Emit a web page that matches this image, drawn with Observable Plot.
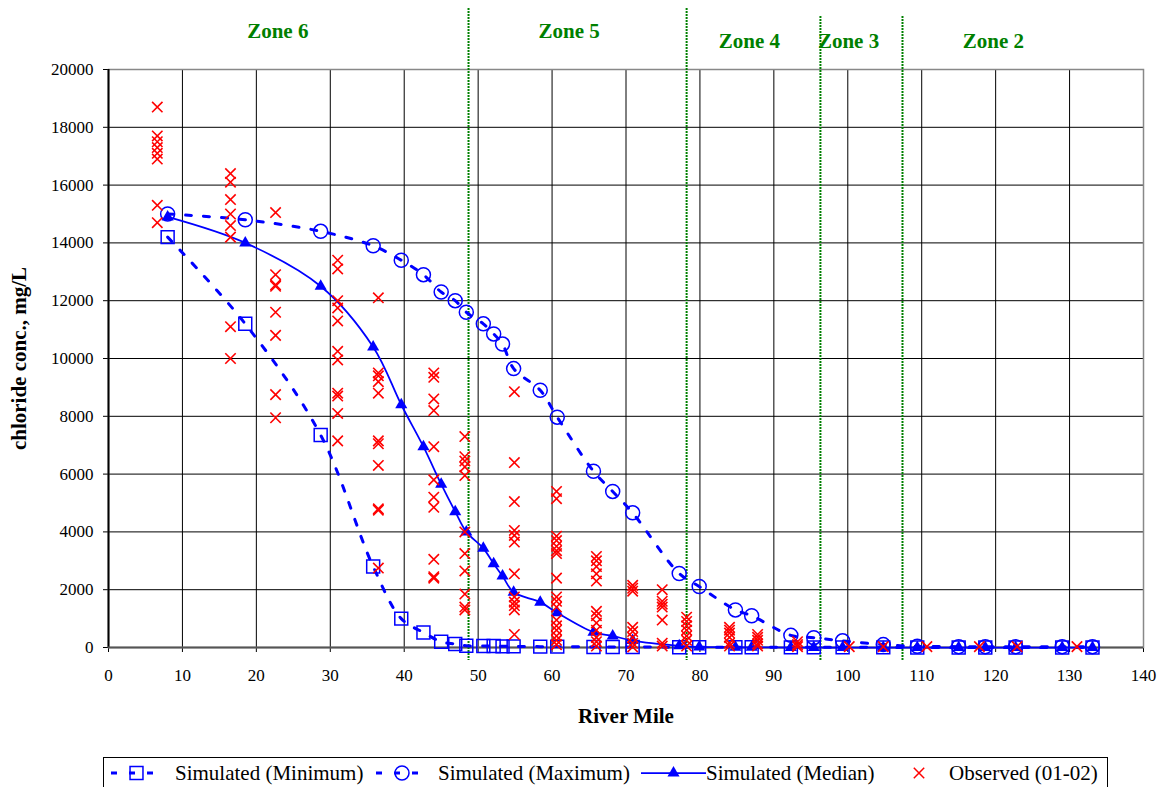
<!DOCTYPE html>
<html><head><meta charset="utf-8">
<script src="https://cdn.jsdelivr.net/npm/d3@7"></script>
<script src="https://cdn.jsdelivr.net/npm/@observablehq/plot@0.6"></script>
<style>
body{margin:0;background:#fff;font-family:"Liberation Serif","Times New Roman",serif;}
#wrap{position:relative;width:1165px;height:787px;overflow:hidden;background:#fff}
#legend{position:absolute;left:103px;top:757px;width:1005px;height:40px;border:1px solid #000;box-sizing:border-box;background:#fff}
.sample{position:absolute;top:4px}
.ltext{position:absolute;top:3px;font-size:21px;line-height:24px;white-space:nowrap;color:#000}
</style></head><body>
<div id="wrap"><div id="chart"></div><div id="legend"></div></div>
<script>
// ---- data ----
const seriesNames = ["Simulated (Minimum)", "Simulated (Maximum)", "Simulated (Median)", "Observed (01-02)"];
const simMile = [8.0, 18.5, 28.7, 35.8, 39.6, 42.6, 45.0, 46.9, 48.4, 50.7, 52.1, 53.3, 54.8, 58.4, 60.7, 65.6, 68.2, 70.9, 77.2, 79.9, 84.8, 87.0, 92.3, 95.4, 99.3, 104.8, 109.4, 115.0, 118.6, 122.7, 129.0, 133.1];
const simMin = [14200, 11200, 7350, 2800, 1000, 520, 200, 120, 60, 50, 50, 40, 40, 30, 30, 20, 20, 20, 10, 10, 10, 10, 5, 5, 5, 5, 0, 0, 0, 0, 0, 0];
const simMax = [15000, 14800, 14400, 13900, 13400, 12900, 12300, 12000, 11600, 11200, 10850, 10500, 9650, 8900, 7970, 6100, 5400, 4660, 2560, 2110, 1300, 1100, 420, 340, 230, 100, 40, 30, 30, 30, 30, 30];
const simMed = [14900, 14000, 12500, 10400, 8400, 6950, 5650, 4700, 4000, 3430, 2900, 2470, 1910, 1570, 1200, 530, 400, 240, 60, 20, 10, 5, 0, 0, 0, 0, 0, 0, 0, 0, 0, 0];
const obsMile = [6.6, 16.5, 22.6, 31.0, 36.5, 44.0, 48.2, 54.9, 60.6, 66.0, 70.9, 74.9, 78.2, 84.0, 87.8, 93.2, 100.2, 104.8, 110.7, 117.8, 122.9, 131.0];
const obsConc = [
  [18700, 17700, 17500, 17300, 17100, 16900, 15300, 14700],
  [16400, 16100, 15500, 15000, 14600, 14200, 11100, 10000],
  [15050, 12900, 12550, 12500, 11600, 10800, 8750, 7950],
  [13400, 13100, 12000, 11750, 11300, 10250, 9950, 8800, 8700, 8100, 7150],
  [12100, 9500, 9400, 9200, 8800, 7150, 7050, 6300, 4800, 4750, 2750],
  [9500, 9350, 8600, 8200, 6950, 5800, 5200, 4850, 3050, 2450, 2400],
  [7300, 6600, 6450, 6250, 5950, 4000, 3250, 2650, 1850, 1400, 1300],
  [8850, 6400, 5050, 4050, 3880, 3650, 2550, 1750, 1570, 1450, 1300, 450],
  [5400, 5150, 3850, 3700, 3500, 3350, 3250, 2400, 1750, 1600, 1400, 950, 750, 600, 400, 250, 100],
  [3150, 3000, 2800, 2550, 2300, 1250, 1100, 850, 600, 350, 200, 50],
  [2150, 2050, 1950, 700, 550, 350, 150, 20],
  [2000, 1600, 1500, 1400, 950, 150, 50],
  [1050, 900, 750, 600, 400, 250, 50],
  [700, 600, 500, 350, 150, 50],
  [450, 350, 250, 130, 50],
  [200, 100, 30],
  [30], [30], [30], [30], [30], [30]
];
const zoneBounds = [48.7, 78.2, 96.3, 107.4];
const zoneNames = ["Zone 6", "Zone 5", "Zone 4", "Zone 3", "Zone 2"];
const zoneLabelMile = [22.9, 62.3, 86.7, 100.1, 119.7];
const xTicks = d3.range(0, 141, 10);
const yTicks = d3.range(0, 20001, 2000);

// ---- build ----
const blue = "#0000ff", red = "#ff0000", green = "#008000";
const mk = (ys) => simMile.map((m, i) => ({mile: m, v: ys[i]}));
const minData = mk(simMin), maxData = mk(simMax), medData = mk(simMed);
const obsData = obsMile.flatMap((m, i) => obsConc[i].map(v => ({mile: m, v})));

const dashArr = "6,12";
const dash = {stroke: blue, strokeWidth: 3, strokeDasharray: dashArr, curve: "catmull-rom"};
const lbl = {fontWeight: "bold", fontSize: 21, lineAnchor: "middle", textAnchor: "middle"};
const chart = Plot.plot({
  width: 1165, height: 745,
  marginLeft: 108, marginRight: 22, marginTop: 69, marginBottom: 98,
  style: {fontFamily: "Liberation Serif, Times New Roman, serif", fontSize: "17px", background: "white", color: "#000", overflow: "visible"},
  x: {domain: [0, 140], ticks: xTicks, tickFormat: "d", label: null, tickSize: 5, tickPadding: 16},
  y: {domain: [0, 20000], ticks: yTicks, tickFormat: "d", label: null, tickSize: 5, tickPadding: 10},
  marks: [
    Plot.ruleX(xTicks, {stroke: "#000", strokeWidth: 1}),
    Plot.ruleY(yTicks, {stroke: "#000", strokeWidth: 1}),
    Plot.frame({stroke: "#888", strokeWidth: 1.5}),
    Plot.ruleX([0], {stroke: "#000", strokeWidth: 2}),
    Plot.ruleY([0], {stroke: "#555", strokeWidth: 2}),
    Plot.ruleX(zoneBounds.slice(0, 2), {stroke: green, strokeWidth: 2, strokeDasharray: "2,1", insetTop: -61, insetBottom: -13}),
    Plot.ruleX(zoneBounds.slice(2), {stroke: green, strokeWidth: 2, strokeDasharray: "2,1", insetTop: -53, insetBottom: -13}),
    Plot.text(zoneNames.slice(0, 2), {x: zoneLabelMile.slice(0, 2), text: d => d, frameAnchor: "top", dy: -38, fill: green, ...lbl}),
    Plot.text(zoneNames.slice(2), {x: zoneLabelMile.slice(2), text: d => d, frameAnchor: "top", dy: -28, fill: green, ...lbl}),
    Plot.text(["River Mile"], {frameAnchor: "bottom", dy: 69, fill: "#000", ...lbl}),
    Plot.text(["chloride conc., mg/L"], {frameAnchor: "left", dx: -89, rotate: -90, fill: "#000", ...lbl}),
    Plot.line(minData, {x: "mile", y: "v", ...dash}),
    Plot.line(maxData, {x: "mile", y: "v", ...dash}),
    Plot.line(medData, {x: "mile", y: "v", stroke: blue, strokeWidth: 1.75, curve: "catmull-rom"}),
    Plot.dot(minData, {x: "mile", y: "v", symbol: "square", r: 7.3, stroke: blue, fill: "none", strokeWidth: 1.5}),
    Plot.dot(maxData, {x: "mile", y: "v", symbol: "circle", r: 7, stroke: blue, fill: "none", strokeWidth: 1.5}),
    Plot.dot(medData, {x: "mile", y: "v", symbol: "triangle", r: 4.5, fill: blue, stroke: "none"}),
    Plot.dot(obsData, {x: "mile", y: "v", symbol: "times", r: 4.8, stroke: red, strokeWidth: 1.6})
  ]
});
document.getElementById("chart").appendChild(chart);

// ---- legend ----
const legend = document.getElementById("legend");
const lx = 103;
const specs = [
  {sample: 110, w: 51, mark: "square", dashed: true, text: 174},
  {sample: 375, w: 52, mark: "circle", dashed: true, text: 437},
  {sample: 640, w: 65, mark: "triangle", dashed: false, text: 705},
  {sample: 905, w: 26, mark: "times", line: false, text: 948}
];
specs.forEach((s, i) => {
  const ns = "http://www.w3.org/2000/svg";
  const svg = document.createElementNS(ns, "svg");
  svg.setAttribute("width", s.w); svg.setAttribute("height", 22);
  svg.setAttribute("class", "sample");
  svg.style.left = (s.sample - lx) + "px";
  const cx = s.w / 2, cy = 11;
  if (s.line !== false) {
    const l = document.createElementNS(ns, "line");
    l.setAttribute("x1", 0); l.setAttribute("x2", s.w); l.setAttribute("y1", cy); l.setAttribute("y2", cy);
    l.setAttribute("stroke", blue); l.setAttribute("stroke-width", s.dashed ? 3 : 1.75);
    if (s.dashed) l.setAttribute("stroke-dasharray", dashArr);
    svg.appendChild(l);
  }
  const p = document.createElementNS(ns, "path");
  const sym = {square: d3.symbolSquare, circle: d3.symbolCircle, triangle: d3.symbolTriangle, times: d3.symbolTimes}[s.mark];
  const rr = {square: 7.3, circle: 7, triangle: 4.5, times: 4.8}[s.mark];
  p.setAttribute("d", d3.symbol(sym, Math.PI * rr * rr)());
  p.setAttribute("transform", `translate(${cx},${cy})`);
  if (s.mark === "triangle") { p.setAttribute("fill", blue); }
  else { p.setAttribute("fill", "none"); p.setAttribute("stroke", s.mark === "times" ? red : blue); p.setAttribute("stroke-width", 1.5); }
  svg.appendChild(p);
  legend.appendChild(svg);
  const t = document.createElement("div");
  t.className = "ltext"; t.textContent = seriesNames[i];
  t.style.left = (s.text - lx) + "px";
  legend.appendChild(t);
});
</script>
</body></html>
